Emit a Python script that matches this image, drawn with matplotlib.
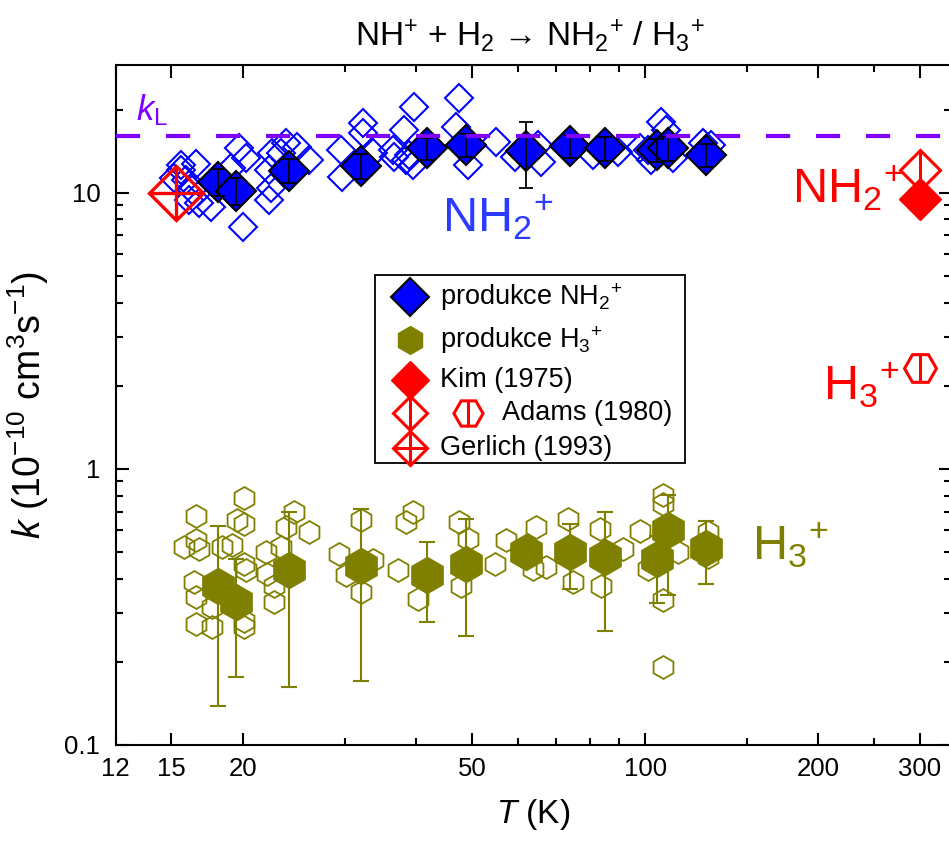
import numpy as np
import matplotlib
matplotlib.use("Agg")
import matplotlib.pyplot as plt
from matplotlib.ticker import FixedLocator, FixedFormatter, NullFormatter, LogLocator
from matplotlib.patches import Rectangle

plt.rcParams['font.family'] = ['Liberation Sans', 'DejaVu Sans']
plt.rcParams['mathtext.fontset'] = 'custom'
plt.rcParams['mathtext.rm'] = 'Liberation Sans'
plt.rcParams['mathtext.it'] = 'Liberation Sans:italic'
plt.rcParams['mathtext.bf'] = 'Liberation Sans:bold'

# ---- averaged rate coefficients (10^-10 cm^3 s^-1) ----
T_avg = [18.1, 19.4, 24.0, 32.1, 41.8, 48.7, 62.0, 74.0, 85.1, 104.8, 109.5, 127.3]
k_nh2 = [10.95, 10.16, 12.0, 12.5, 14.47, 14.88, 14.19, 14.79, 14.47, 14.27, 14.47, 13.69]
k_nh2_err = [1.2, 1.1, 1.2, 1.3, 1.3, 1.4, 3.8, 1.4, 1.4, 1.4, 1.4, 1.3]
k_h3 = [0.378, 0.329, 0.431, 0.443, 0.411, 0.453, 0.499, 0.499, 0.479, 0.473, 0.602, 0.518]
k_h3_err_lo = [0.239, 0.153, 0.269, 0.273, 0.133, 0.204, 0.05, 0.131, 0.221, 0.147, 0.254, 0.136]
k_h3_err_hi = [0.243, 0.141, 0.266, 0.270, 0.132, 0.207, 0.05, 0.134, 0.218, 0.10, 0.20, 0.127]

# ---- individual measurements ----
T_nh2_raw = [15.16, 15.58, 16.54, 15.89, 16.76, 16.32, 15.58, 17.56, 16.1,
             19.67, 20.21, 19.03, 20.01, 22.19, 22.35, 22.19, 23.73, 24.85, 26.04, 23.26, 22.48,
             29.57, 29.76, 32.25, 32.25, 33.57, 36.62, 36.37,
             38.12, 39.68, 38.38, 39.41, 38.89,
             47.53, 46.9, 49.13, 55.06, 59.25, 65.06, 65.95,
             81.1, 89.6, 97.8, 102.5, 106.7, 108.8, 111.7, 101.1, 126.0, 130.3]
k_nh2_raw = [11.29, 12.59, 12.69, 11.10, 9.17, 10.22, 12.07, 8.89, 9.40,
             14.47, 13.31, 12.25, 7.52, 12.07, 10.36, 9.40, 15.09, 14.67, 13.13, 13.88, 13.88,
             14.27, 11.42, 17.83, 16.40, 13.88, 13.49, 14.27,
             16.86, 20.48, 13.13, 12.59, 13.69,
             21.97, 17.34, 12.59, 15.29, 13.49, 14.88, 12.94,
             13.69, 14.07, 14.47, 13.13, 18.07, 16.86, 13.31, 14.27, 15.09, 14.88]

T_h3_raw = [16.54, 20.07, 20.07, 19.54, 16.54, 16.76, 15.78, 18.40, 19.16, 20.07, 20.21,
            16.43, 16.54, 17.67, 16.54, 17.67, 20.07, 20.07,
            24.53, 23.73, 26.04, 21.89, 23.26, 22.03, 22.63, 22.63,
            32.05, 29.38, 33.57, 30.18, 32.05, 37.11, 38.38, 39.41, 40.21,
            47.85, 47.53, 49.13, 54.69, 57.3, 64.63, 67.3, 63.75,
            73.34, 74.83, 83.3, 83.8, 91.4, 97.8, 101.1,
            107.3, 107.3, 107.3, 107.3, 114.0, 128.6, 128.6]
k_h3_raw = [0.673, 0.786, 0.633, 0.651, 0.551, 0.514, 0.521, 0.521, 0.528, 0.453, 0.429,
            0.389, 0.343, 0.316, 0.275, 0.267, 0.282, 0.267,
            0.697, 0.615, 0.590, 0.499, 0.521, 0.417, 0.378, 0.329,
            0.651, 0.493, 0.466, 0.411, 0.358, 0.429, 0.642, 0.697, 0.338,
            0.378, 0.642, 0.558, 0.453, 0.551, 0.615, 0.441, 0.435,
            0.660, 0.389, 0.607, 0.378, 0.514, 0.598, 0.435,
            0.801, 0.748, 0.334, 0.191, 0.499, 0.590, 0.479]

# ---- earlier work ----
kim_T, kim_k = [300], [9.5]
adams_T, adams_k_nh2, adams_k_h3 = [300], [12.1], [2.32]
gerlich_T, gerlich_k = [15.3], [10.0]
k_L = 16.0

xticks = [12, 15, 20, 50, 100, 200, 300]
xticklabels = ['12', '15', '20', '50', '100', '200', '300']
xminor = [30, 40, 60, 70, 80, 90, 150, 250]
yticks = [0.1, 1, 10]
yticklabels = ['0.1', '1', '10']

BLUE = '#0000ff'
OLIVE = '#808000'
RED = '#ff0000'
PURPLE = '#8000ff'

NH2 = r'NH$_2{}^{+}$'
H3 = r'H$_3{}^{+}$'

fig = plt.figure(figsize=(9.49, 8.41), dpi=100)
ax = fig.add_axes([115.6 / 949, 96 / 841, 835.4 / 949, 680 / 841])
ax.set_xscale('log')
ax.set_yscale('log')
ax.set_xlim(12, 340)
ax.set_ylim(0.1, 29)

for s in ax.spines.values():
    s.set_linewidth(1.5)

ax.xaxis.set_major_locator(FixedLocator(xticks))
ax.xaxis.set_major_formatter(FixedFormatter(xticklabels))
ax.xaxis.set_minor_locator(FixedLocator(xminor))
ax.xaxis.set_minor_formatter(NullFormatter())
ax.yaxis.set_major_locator(FixedLocator(yticks))
ax.yaxis.set_major_formatter(FixedFormatter(yticklabels))
ax.yaxis.set_minor_locator(LogLocator(base=10, subs=np.arange(2, 10)))
ax.yaxis.set_minor_formatter(NullFormatter())
ax.tick_params(which='both', direction='in', top=True, right=True, width=1.5)
ax.tick_params(which='major', length=9, labelsize=18.5)
ax.tick_params(axis='x', which='major', pad=9)
ax.tick_params(axis='y', which='major', pad=11)
ax.tick_params(which='minor', length=5)

# individual points
ax.plot(T_nh2_raw, k_nh2_raw, ls='none', marker='D', ms=14, mfc='none',
        mec=BLUE, mew=1.5, zorder=2)
ax.plot(T_h3_raw, k_h3_raw, ls='none', marker='h', ms=16.5, mfc='none',
        mec=OLIVE, mew=1.3, zorder=2)

# averaged H3+ channel
ax.errorbar(T_avg, k_h3, yerr=[k_h3_err_lo, k_h3_err_hi], fmt='none', ecolor=OLIVE,
            elinewidth=1.5, capsize=6, capthick=1.5, zorder=3)
ax.plot(T_avg, k_h3, ls='none', marker='h', ms=26, mfc=OLIVE, mec=OLIVE, zorder=4)

# averaged NH2+ channel
ax.plot(T_avg, k_nh2, ls='none', marker='D', ms=20, mfc=BLUE, mec='black',
        mew=1.5, zorder=4)
ax.errorbar(T_avg, k_nh2, yerr=k_nh2_err, fmt='none', ecolor='black',
            elinewidth=1.3, capsize=5, capthick=1.3, zorder=5)

# Langevin rate
ax.axhline(k_L, color=PURPLE, lw=3, dashes=(5.8, 6.2), zorder=6)
ax.text(13.0, 18.3, r'$k_\mathrm{L}$', color=PURPLE, fontsize=25,
        ha='left', va='baseline')

# literature values
ax.plot(gerlich_T, gerlich_k, ls='none', marker='D', ms=27.5, mfc='none', mec=RED,
        mew=2.4, zorder=7)
ax.plot(gerlich_T, gerlich_k, ls='none', marker='+', ms=38, mec=RED, mew=2.4, zorder=7)
ax.plot(adams_T, adams_k_nh2, ls='none', marker='D', ms=20, mfc='white', mec=RED,
        mew=2.2, zorder=7)
ax.plot(adams_T, adams_k_nh2, ls='none', marker='|', ms=28, mec=RED, mew=2.2, zorder=7)
ax.plot(kim_T, kim_k, ls='none', marker='D', ms=21, mfc=RED, mec=RED, zorder=8)
ax.plot(adams_T, adams_k_h3, ls='none', marker='H', ms=23, mfc='none', mec=RED,
        mew=2.2, zorder=7)
ax.plot(adams_T, adams_k_h3, ls='none', marker='|', ms=20, mec=RED, mew=2.2, zorder=7)

# channel labels
ax.text(44.4, 7.2, NH2, color='#2b3cff', fontsize=35, ha='left', va='baseline')
ax.text(179.7, 9.15, NH2, color=RED, fontsize=35, ha='left', va='baseline')
ax.text(203.7, 1.77, H3, color=RED, fontsize=35, ha='left', va='baseline')
ax.text(153.2, 0.466, H3, color=OLIVE, fontsize=35, ha='left', va='baseline')

# legend box
tr = ax.transAxes
ax.add_patch(Rectangle((0.3105, 0.4147), 0.371, 0.2765, transform=tr,
                       facecolor='white', edgecolor='black', lw=1.3, zorder=9))
kx = 0.3524
tx = 0.3884
rows = [0.6588, 0.5956, 0.5368, 0.4882, 0.4368]
kw = dict(transform=tr, ls='none', clip_on=False, zorder=10)
ax.plot([kx], [rows[0]], marker='D', ms=19, mfc=BLUE, mec='black', mew=1.5, **kw)
ax.plot([kx], [rows[1]], marker='h', ms=20, mfc=OLIVE, mec=OLIVE, **kw)
ax.plot([kx], [rows[2]], marker='D', ms=19, mfc=RED, mec=RED, **kw)
ax.plot([kx], [rows[3]], marker='D', ms=17, mfc='none', mec=RED, mew=2.2, **kw)
ax.plot([kx], [rows[3]], marker='|', ms=24, mec=RED, mew=2.2, **kw)
ax.plot([0.4218], [rows[3]], marker='H', ms=21, mfc='none', mec=RED, mew=2.2, **kw)
ax.plot([0.4218], [rows[3]], marker='|', ms=18, mec=RED, mew=2.2, **kw)
ax.plot([kx], [rows[4]], marker='D', ms=17, mfc='none', mec=RED, mew=2.2, **kw)
ax.plot([kx], [rows[4]], marker='+', ms=24, mec=RED, mew=2.2, **kw)
tkw = dict(transform=tr, fontsize=19.5, va='center', ha='left', zorder=10)
ax.text(tx, rows[0], 'produkce ' + NH2, **tkw)
ax.text(tx, rows[1], 'produkce ' + H3, **tkw)
ax.text(tx, rows[2], 'Kim (1975)', **tkw)
ax.text(0.4625, rows[3], 'Adams (1980)', **tkw)
ax.text(tx, rows[4], 'Gerlich (1993)', **tkw)

ax.set_xlabel(r'$T$ (K)', fontsize=24, labelpad=11)
ax.set_ylabel(r'$k$ (10$^{-10}$ cm$^3$s$^{-1}$)', fontsize=27, labelpad=10)
fig.text(0.5585, 0.958, r'NH$^{+}$ + H$_2$ → NH$_2{}^{+}$ / H$_3{}^{+}$', ha='center',
         va='center', fontsize=24)

fig.savefig('out.png', dpi=100)
